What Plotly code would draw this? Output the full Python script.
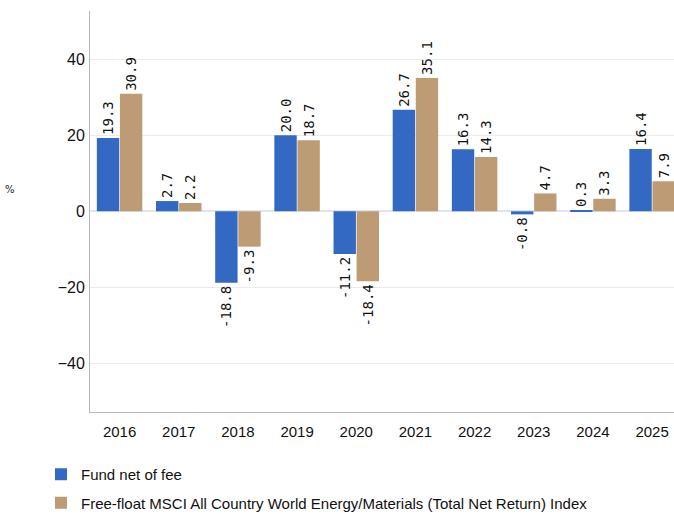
import plotly.graph_objects as go

years = ["2016", "2017", "2018", "2019", "2020", "2021", "2022", "2023", "2024", "2025"]
fund = [19.3, 2.7, -18.8, 20.0, -11.2, 26.7, 16.3, -0.8, 0.3, 16.4]
index = [30.9, 2.2, -9.3, 18.7, -18.4, 35.1, 14.3, 4.7, 3.3, 7.9]
series_names = ["Fund net of fee",
                "Free-float MSCI All Country World Energy/Materials (Total Net Return) Index"]
y_ticks = [-40, -20, 0, 20, 40]

BLUE = "#3469c3"
TAN = "#bd9b74"
NARROW = "Liberation Sans Narrow, Arial Narrow, Liberation Sans, sans-serif"
LABEL_FONT = dict(family="DejaVu Sans Mono, monospace", size=14, color="#111")

fig = go.Figure()
for name, vals, col, grp in [(series_names[0], fund, BLUE, "a"), (series_names[1], index, TAN, "b")]:
    fig.add_trace(go.Bar(
        x=years, y=vals, name=name, legendgroup=grp,
        marker=dict(color=col, line=dict(width=0)),
        text=[f"{v:.1f}" for v in vals],
        textposition="outside", textangle=-90,
        textfont=LABEL_FONT, cliponaxis=False,
    ))

fig.update_layout(
    width=674, height=514,
    margin=dict(l=90, r=0, t=11, b=102, autoexpand=False),
    paper_bgcolor="white", plot_bgcolor="white",
    barmode="group", bargap=0.22, bargroupgap=0.03,
    uniformtext=dict(minsize=14, mode="show"),
    showlegend=True,
    legend=dict(
        xref="container", yref="container",
        x=41 / 674, xanchor="left", y=1 - 458 / 514, yanchor="top",
        font=dict(family=NARROW, size=15, color="#111"),
        traceorder="grouped", tracegroupgap=6,
        itemwidth=30, bgcolor="rgba(0,0,0,0)",
    ),
    xaxis=dict(
        type="category", range=[-0.5, 9.37],
        showline=True, linecolor="#b8b8b8", linewidth=1,
        showgrid=False, ticks="", ticklen=0, ticklabelstandoff=6,
        tickfont=dict(family=NARROW, size=15, color="#111"),
    ),
    yaxis=dict(
        range=[-52.8, 52.7], tickvals=y_ticks,
        showline=True, linecolor="#b8b8b8", linewidth=1,
        showgrid=True, gridcolor="#ebebeb", gridwidth=1,
        zeroline=True, zerolinecolor="#dfe5ef", zerolinewidth=2,
        ticks="", ticklen=0, ticklabelstandoff=1,
        tickfont=dict(family=NARROW, size=16, color="#111"),
    ),
    annotations=[dict(
        text="%", xref="paper", yref="paper",
        x=-(90 - 10) / 584, y=(412 - 190) / 401,
        xanchor="center", yanchor="middle", showarrow=False,
        font=dict(family="DejaVu Sans, sans-serif", size=10, color="#222"),
    )],
)

fig.write_html("out.html", config={"displayModeBar": False},
               post_script="document.body.style.margin='0px';")
